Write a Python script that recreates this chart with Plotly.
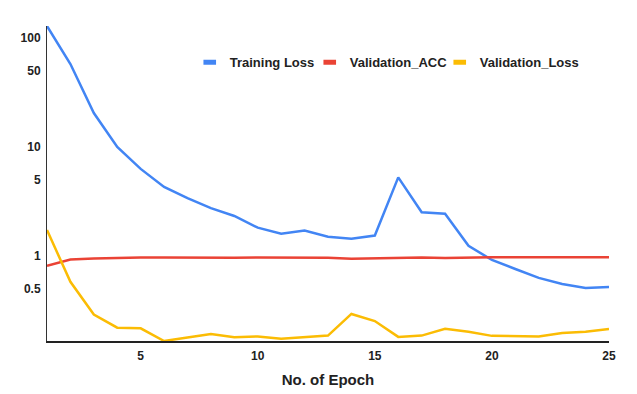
import plotly.graph_objects as go
import math

# Data
epochs = list(range(1, 26))

training_loss = [129, 57.8, 20.5, 10.0, 6.3, 4.3, 3.4, 2.75, 2.33, 1.82,
                 1.60, 1.71, 1.50, 1.44, 1.54, 5.27, 2.52, 2.44, 1.24, 0.92,
                 0.76, 0.63, 0.553, 0.51, 0.52]

validation_acc = [0.815, 0.93, 0.95, 0.965, 0.97, 0.97, 0.965, 0.965, 0.965, 0.97,
                  0.97, 0.965, 0.965, 0.945, 0.955, 0.965, 0.97, 0.96, 0.975, 0.975,
                  0.975, 0.975, 0.975, 0.975, 0.975]

validation_loss = [1.73, 0.58, 0.29, 0.22, 0.217, 0.166, 0.179, 0.192, 0.18, 0.183,
                   0.174, 0.18, 0.186, 0.294, 0.253, 0.181, 0.186, 0.215, 0.202, 0.185,
                   0.185, 0.183, 0.197, 0.202, 0.214]

y_tick_vals = [0.5, 1, 5, 10, 50, 100]
y_tick_text = ['0.5', '1', '5', '10', '50', '100']
x_tick_vals = [5, 10, 15, 20, 25]

# name, values, colour, width reserved for the legend text
series = [
    ('Training Loss', training_loss, '#4285F4', 75),
    ('Validation_ACC', validation_acc, '#EA4335', 85),
    ('Validation_Loss', validation_loss, '#FBBC04', 100),
]

font_family = 'Liberation Sans, Arial, sans-serif'

fig = go.Figure()
for name, values, color, lw in series:
    # the line itself
    fig.add_trace(go.Scatter(x=epochs, y=values, mode='lines', name=name,
                             line=dict(color=color, width=2.5), showlegend=False))
    # short bar used as legend key
    fig.add_trace(go.Scatter(x=[None], y=[None], mode='markers', name=name,
                             legendwidth=lw,
                             marker=dict(symbol='line-ew', size=9,
                                         line=dict(color=color, width=5))))

# the page body adds an 8px offset, margins are set to allow for it
fig.update_layout(
    width=637, height=394,
    margin=dict(l=39, r=36, t=18, b=61),
    paper_bgcolor='white', plot_bgcolor='white',
    font=dict(family=font_family, color='#222222', size=12),
    showlegend=True,
    legend=dict(orientation='h', x=0.254, y=0.885, xanchor='left', yanchor='middle',
                font=dict(size=13, weight='bold', color='#222222'),
                bgcolor='rgba(0,0,0,0)', itemwidth=30),
)

fig.update_xaxes(
    range=[1, 25], tickvals=x_tick_vals, showgrid=False, zeroline=False,
    showline=True, linecolor='#222222', linewidth=1.5, automargin=False,
    ticks='outside', ticklen=3, tickcolor='rgba(0,0,0,0)',
    tickfont=dict(size=12, weight='bold', color='#222222'),
    title=dict(text='No. of Epoch', font=dict(size=15, weight='bold', color='#222222'),
               standoff=12),
)

fig.update_yaxes(
    type='log', range=[math.log10(0.166), math.log10(129)],
    tickvals=y_tick_vals, ticktext=y_tick_text, showgrid=False, zeroline=False,
    showline=True, linecolor='#333333', linewidth=1, automargin=False,
    ticks='outside', ticklen=3, tickcolor='rgba(0,0,0,0)',
    tickfont=dict(size=12, weight='bold', color='#222222'),
)

fig.write_html('out.html')
